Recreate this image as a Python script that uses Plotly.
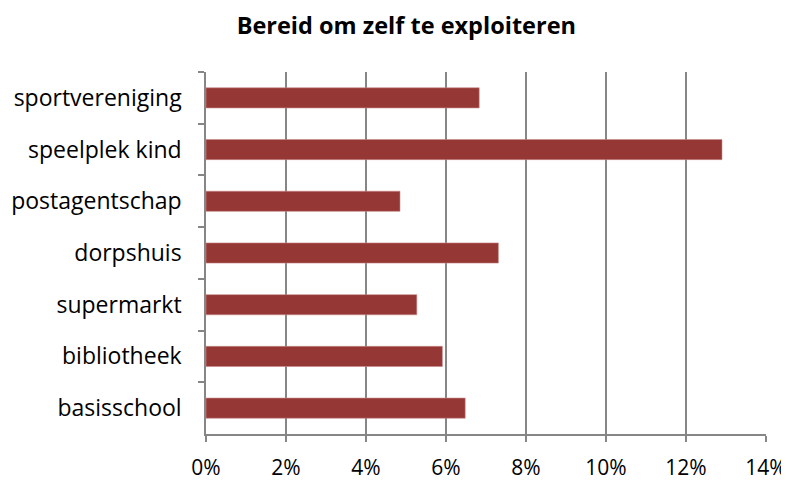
import plotly.graph_objects as go

categories = ["sportvereniging", "speelplek kind", "postagentschap", "dorpshuis",
              "supermarkt", "bibliotheek", "basisschool"]
values = [0.0683, 0.129, 0.0485, 0.0731, 0.0527, 0.0591, 0.0648]
tick_vals = [0, 0.02, 0.04, 0.06, 0.08, 0.10, 0.12, 0.14]
tick_text = ["0%", "2%", "4%", "6%", "8%", "10%", "12%", "14%"]

fig = go.Figure(go.Bar(
    x=values, y=categories, orientation="h",
    marker=dict(color="#953735", line=dict(color="#c98a89", width=0.6)),
    width=0.39,
))

# page body has an 8px default margin, so the figure is 8px smaller on each axis
fig.update_layout(
    width=781, height=474,
    margin=dict(l=198, r=23, t=64, b=48, autoexpand=False),
    paper_bgcolor="white", plot_bgcolor="white",
    font=dict(family="Open Sans, sans-serif", size=23, color="#000000"),
    title=dict(text="<b>Bereid om zelf te exploiteren</b>", x=0.510, xanchor="center",
               y=0.962, yanchor="middle", font=dict(size=23.5, color="#000000")),
    showlegend=False,
)
fig.update_xaxes(
    range=[0, 0.14], tickvals=tick_vals, ticktext=tick_text,
    showgrid=True, gridcolor="#868686", gridwidth=1.5,
    showline=True, linecolor="#868686", linewidth=1.5,
    ticks="outside", ticklen=6, tickcolor="#868686", tickwidth=1.5,
    ticklabelstandoff=8, zeroline=False, automargin=False,
    tickfont=dict(size=21),
)
fig.update_yaxes(
    autorange="reversed", tickson="boundaries",
    showline=True, linecolor="#868686", linewidth=1.5,
    ticks="outside", ticklen=6, tickcolor="#868686", tickwidth=1.5,
    ticklabelstandoff=18, showgrid=False, automargin=False,
)

fig.write_html("out.html")
